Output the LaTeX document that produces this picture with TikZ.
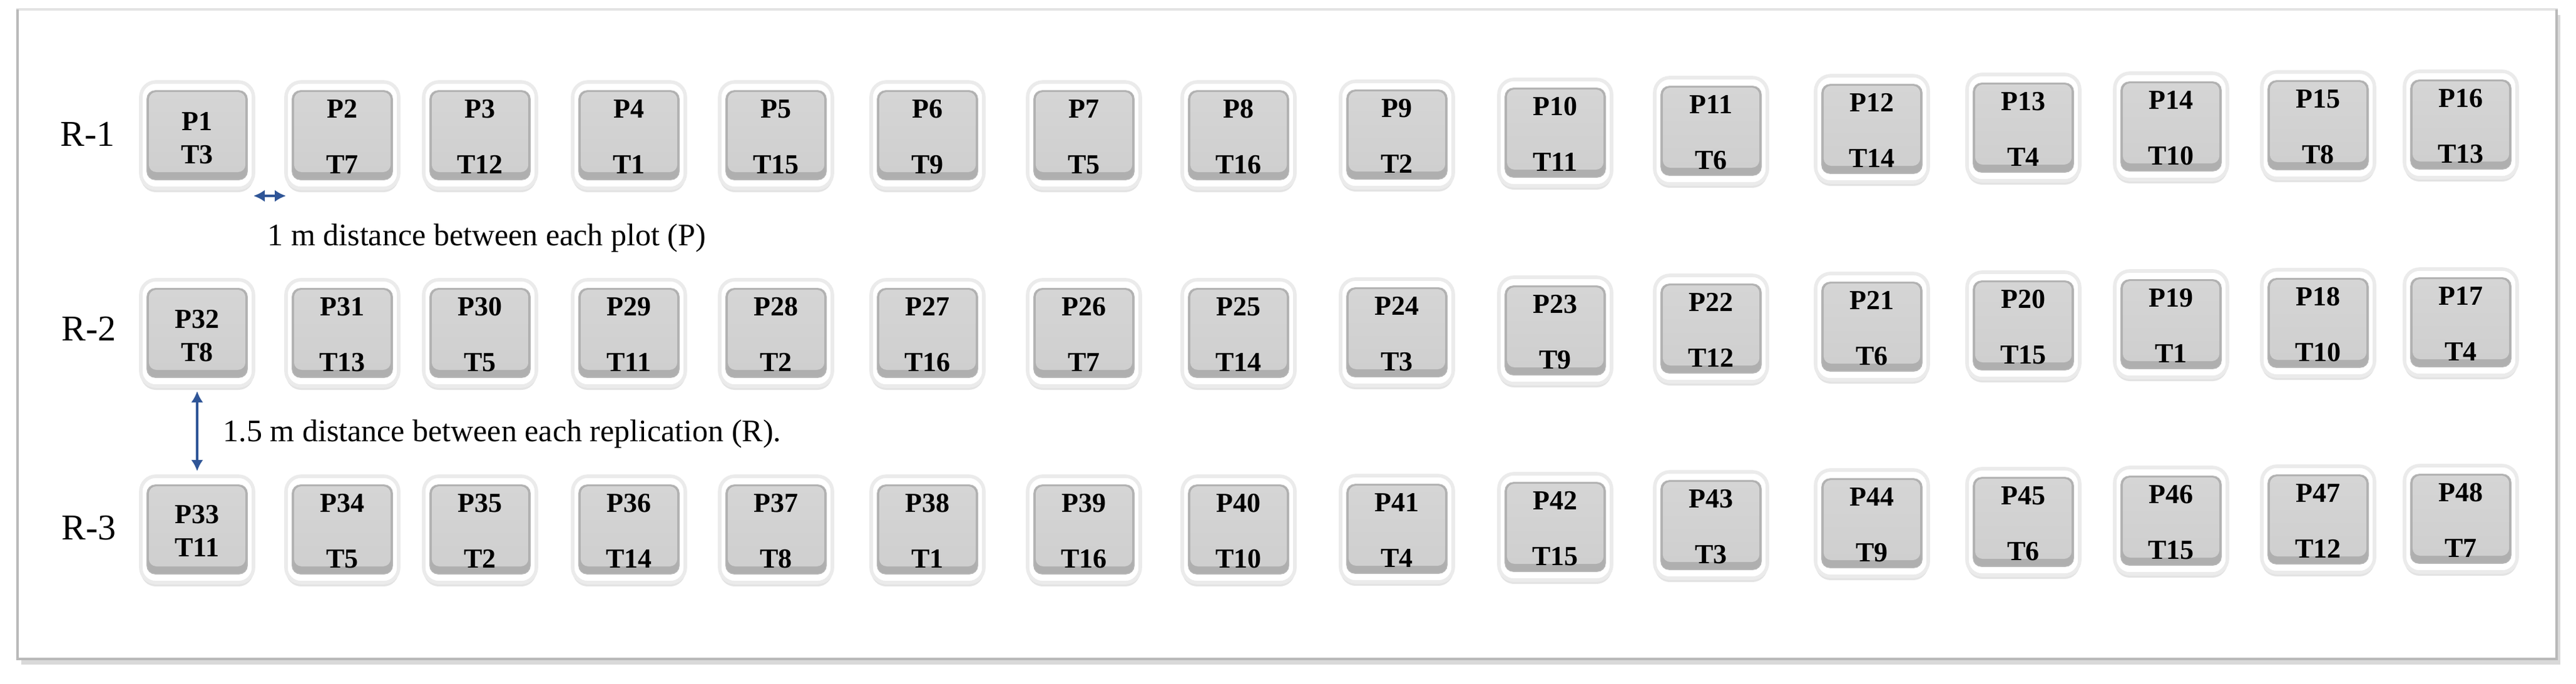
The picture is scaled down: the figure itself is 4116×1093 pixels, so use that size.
\documentclass[tikz,border=0pt]{standalone}
\usepackage{fontspec}
\setmainfont{Liberation Serif}
\usetikzlibrary{shadows,arrows.meta,calc}
\definecolor{arrowblue}{HTML}{2F5597}
\definecolor{boxgrey}{HTML}{D3D3D3}
\definecolor{facetop}{HTML}{D5D5D5}
\definecolor{facebot}{HTML}{CFCFCF}
\definecolor{bevelgrey}{HTML}{AFAFAF}
\definecolor{rimgrey}{HTML}{B5B5B5}
\newcommand\plotbox[7]{%
  \node[outerbox] (#1) at (#2,#3) {};
  \node[bevelbox] (#1i) at (#1) {};
  \node[facebox, anchor=north] (#1f) at ($(#1i.north)+(0,2)$) {};
  \node[plabel, anchor=base] (#1p) at ($(#1)+(0,#6)$) {#4};
  \node[plabel, anchor=base] (#1t) at ($(#1)+(0,#7)$) {#5};
}
\begin{document}
\begin{tikzpicture}[x=0.25pt,y=-0.25pt,
  framebox/.style={rectangle, minimum width=1014.25pt, minimum height=259.5pt,
    fill=white, draw=gray!22, line width=0.8pt, inner sep=0pt, outer sep=0pt,
    drop shadow={shadow xshift=1.6pt, shadow yshift=-2.2pt, opacity=0.3, fill=gray}},
  frameedge/.style={draw=gray!55, line width=1pt},
  outerbox/.style={rectangle, rounded corners=6pt, minimum width=45pt, minimum height=42.5pt,
    fill=white, draw=gray!16, line width=1.4pt, inner sep=0pt, outer sep=0pt,
    drop shadow={shadow xshift=0pt, shadow yshift=-1.5pt, opacity=0.22, fill=gray}},
  bevelbox/.style={rectangle, rounded corners=3.25pt, minimum width=40pt, minimum height=35.5pt,
    fill=bevelgrey, draw=rimgrey, line width=0.4pt, inner sep=0pt, outer sep=0pt},
  facebox/.style={rectangle, rounded corners=3pt, minimum width=38.6pt, minimum height=32pt,
    top color=facetop, bottom color=facebot, draw=none, inner sep=0pt, outer sep=0pt},
  plabel/.style={font=\bfseries\fontsize{11}{13}\selectfont, inner sep=0pt},
  rlabel/.style={font=\fontsize{14.5}{16}\selectfont, inner sep=0pt},
  captext/.style={font=\fontsize{12.5}{15}\selectfont, inner sep=0pt},
  dimarrow/.style={draw=arrowblue, line width=1.2pt,
    {Latex[length=4.5pt,width=4.8pt]}-{Latex[length=4.5pt,width=4.8pt]}}
]
\useasboundingbox (0,0) rectangle (4116,1093);
\node[framebox] (frame) at (2056.5,534) {};
\draw[frameedge] (frame.north west) -- (frame.south west) -- (frame.south east) -- (frame.north east);

\foreach \i/\x/\dy/\ta/\tb/\tc in {
  1/315/0/3/8/11, 2/547/0/7/13/5, 3/767/0/12/5/2, 4/1005/0/1/11/14,
  5/1240/0/15/2/8, 6/1482/0/9/16/1, 7/1732/0/5/7/16, 8/1979/0/16/14/10,
  9/2232/1/2/3/4, 10/2485/4/11/9/15, 11/2734/7/6/12/3, 12/2991/10/14/6/9,
  13/3233/12/4/15/6, 14/3469/14/10/1/15, 15/3704/16/8/10/12, 16/3932/17/13/4/7}{
  \pgfmathtruncatemacro\pb{33-\i}
  \pgfmathtruncatemacro\pc{32+\i}
  \pgfmathsetmacro\ya{216-\dy}
  \pgfmathsetmacro\yb{532-\dy}
  \pgfmathsetmacro\yc{846-\dy}
  \ifnum\i=1
    \plotbox{a\i}{\x}{\ya}{P\i}{T\ta}{-8}{45}
    \plotbox{b\i}{\x}{\yb}{P\pb}{T\tb}{-8}{45}
    \plotbox{c\i}{\x}{\yc}{P\pc}{T\tc}{-10}{43}
  \else
    \plotbox{a\i}{\x}{\ya}{P\i}{T\ta}{-28}{61}
    \plotbox{b\i}{\x}{\yb}{P\pb}{T\tb}{-28}{61}
    \plotbox{c\i}{\x}{\yc}{P\pc}{T\tc}{-28}{61}
  \fi
}

\node[rlabel, anchor=base west] (r1) at (96,233) {R-1};
\node[rlabel, anchor=base west] (r2) at (98,544) {R-2};
\node[rlabel, anchor=base west] (r3) at (98,862) {R-3};

\node[captext, anchor=base west] (cap1) at (427,392) {1 m distance between each plot (P)};
\node[captext, anchor=base west] (cap2) at (356,705) {1.5 m distance between each replication (R).};

\coordinate (hy) at (0,313);
\draw[dimarrow] (a1.east |- hy) -- (a2.west |- hy);
\draw[dimarrow, shorten <=2pt, shorten >=2pt] (b1.south) -- (c1.north);
\end{tikzpicture}
\end{document}
